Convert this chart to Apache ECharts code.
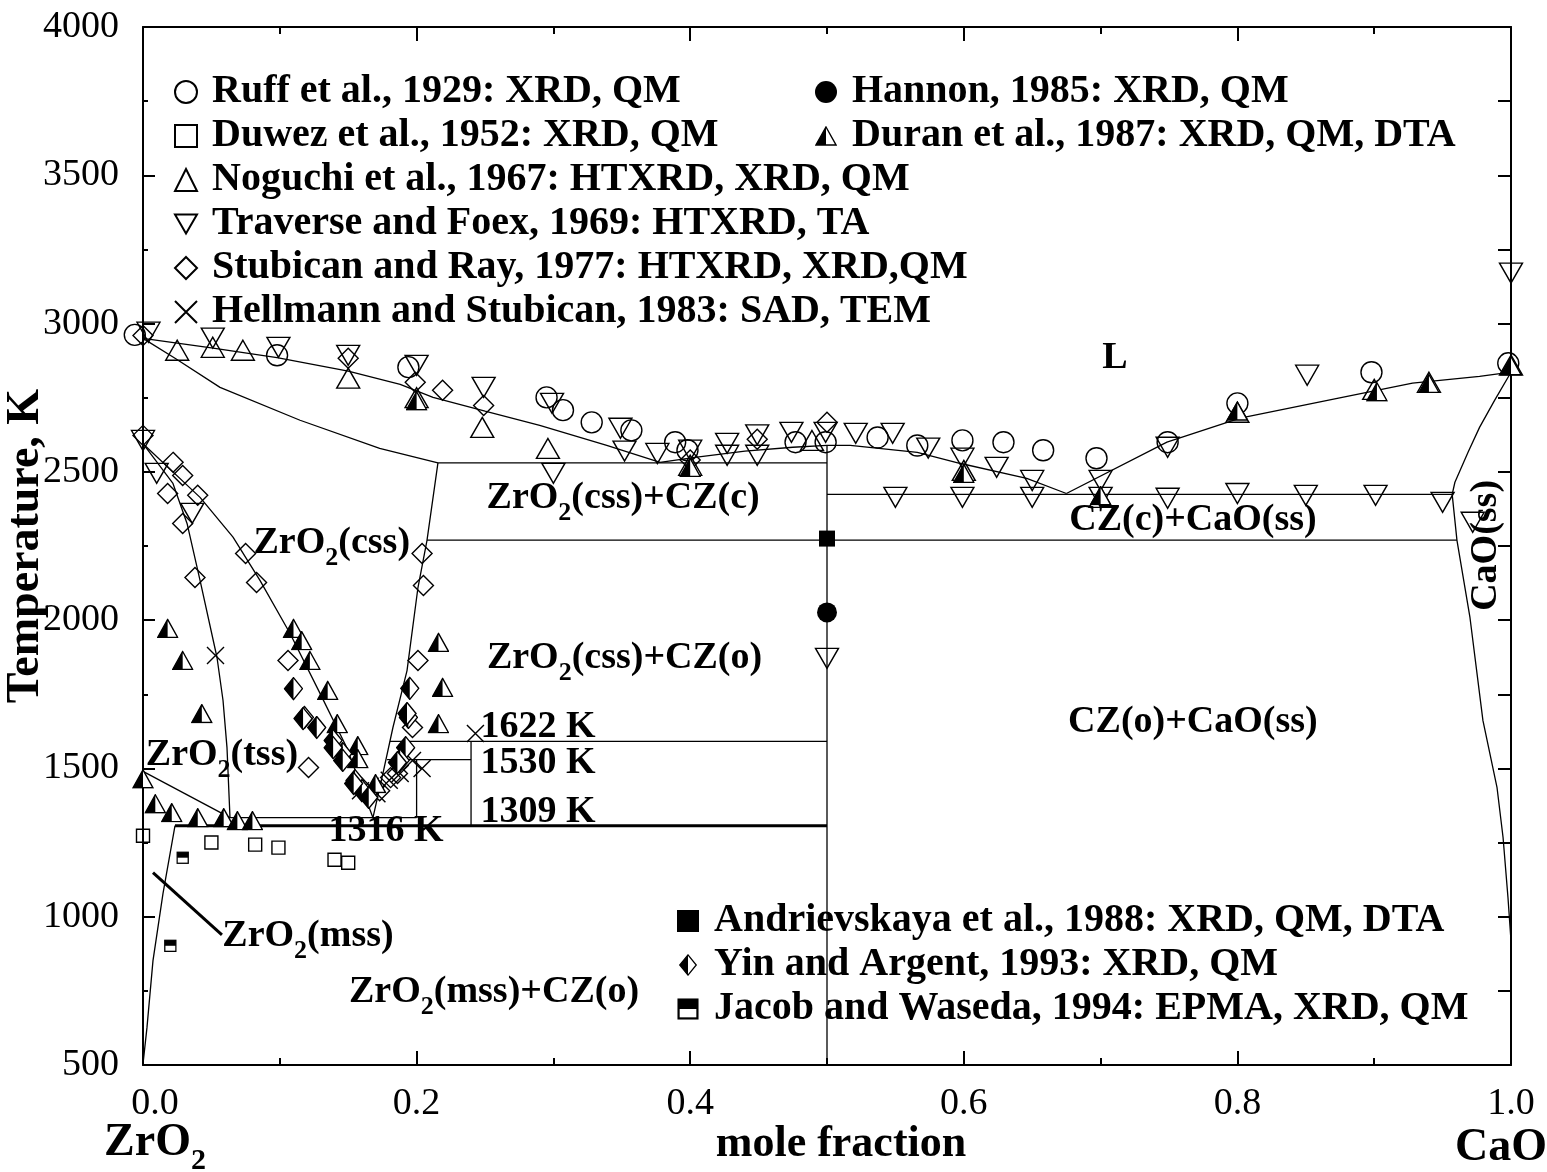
<!DOCTYPE html>
<html><head><meta charset="utf-8">
<script src="https://cdn.jsdelivr.net/npm/echarts@6/dist/echarts.min.js"></script>
<style>html,body{margin:0;padding:0;background:#fff}#c{width:1547px;height:1172px}</style>
</head><body><div id="c"></div>
<script>
const FONT = '"Liberation Serif","Times New Roman",Times,serif';

// ---------- experimental points: [mole fraction CaO, T (K)] ----------
const ruff1929 = [[-0.006,2962],[0.098,2893],[0.194,2853],[0.295,2751],[0.307,2708],[0.328,2667],[0.357,2640],[0.389,2600],[0.398,2573],[0.477,2600],[0.499,2600],[0.537,2616],[0.566,2589],[0.599,2606],[0.629,2600],[0.658,2573],[0.697,2546],[0.749,2600],[0.800,2731],[0.898,2836],[0.998,2866]];
const duwez1952 = [[0.000,1273],[0.050,1250],[0.082,1243],[0.099,1233],[0.140,1192],[0.150,1182]];
const noguchi1967 = [[0.025,2910],[0.051,2920],[0.073,2910],[0.150,2816],[0.200,2750],[0.248,2650],[0.296,2579],[0.400,2522],[0.489,2606],[0.600,2505],[0.700,2414],[0.800,2701],[0.900,2778],[0.940,2802],[1.000,2860]];
const traverse1969 = [[0.004,2971],[0.051,2951],[0.099,2920],[0.150,2893],[0.200,2859],[0.249,2785],[0.299,2731],[0.300,2495],[0.349,2647],[0.352,2570],[0.376,2562],[0.400,2573],[0.427,2596],[0.427,2556],[0.449,2625],[0.449,2556],[0.474,2633],[0.499,2633],[0.521,2630],[0.548,2630],[0.574,2580],[0.599,2546],[0.624,2515],[0.650,2471],[0.700,2471],[0.749,2583],[0.550,2414],[0.599,2414],[0.650,2414],[0.700,2414],[0.749,2411],[0.800,2427],[0.850,2421],[0.901,2421],[0.950,2397],[0.972,2330],[1.000,3170],[0.851,2826],[0.500,1871],[0.000,2606],[0.010,2495],[0.036,2360]];
const stubican1977 = [[0.000,2960],[0.150,2883],[0.199,2802],[0.219,2775],[0.249,2724],[0.400,2540],[0.449,2610],[0.500,2667],[0.000,2623],[0.022,2532],[0.029,2488],[0.018,2427],[0.040,2421],[0.029,2326],[0.075,2225],[0.038,2144],[0.083,2127],[0.106,1864],[0.121,1503],[0.204,2225],[0.205,2117],[0.201,1864],[0.197,1638],[0.186,1483],[0.181,1469],[0.173,1425]];
const hellmann1983 = [[0.053,1881],[0.243,1618],[0.204,1500],[0.171,1415],[0.159,1425],[0.188,1483],[0.197,1527],[0.166,1440],[0.180,1460]];
const hannon1985 = [[0.500,2026]];
const duran1987 = [[0.000,1465],[0.009,1381],[0.021,1351],[0.040,1334],[0.059,1334],[0.069,1324],[0.080,1324],[0.043,1685],[0.018,1972],[0.029,1864],[0.110,1972],[0.116,1931],[0.122,1864],[0.135,1763],[0.142,1651],[0.157,1577],[0.157,1533],[0.170,1449],[0.216,1925],[0.219,1773],[0.216,1651],[0.200,2740],[0.400,2515],[0.600,2495],[0.700,2420],[0.800,2705],[0.902,2770],[0.940,2798],[1.000,2858]];
const andrievskaya1988 = [[0.500,2275]];
const yin1993 = [[0.110,1769],[0.118,1672],[0.127,1638],[0.139,1594],[0.146,1550],[0.146,1527],[0.155,1459],[0.160,1425],[0.165,1402],[0.195,1770],[0.194,1672],[0.193,1685],[0.192,1570],[0.188,1527],[0.186,1520],[0.117,1668],[0.139,1570],[0.154,1449]];
const jacob1994 = [[0.029,1199],[0.020,902]];

// ---------- phase boundaries ----------
const liquidusZrO2 = [[0,2950],[0.05,2918],[0.098,2885],[0.15,2840],[0.188,2795],[0.212,2751],[0.25,2705],[0.290,2657],[0.339,2589],[0.378,2532]];
const liquidusCZ = [[0.378,2532],[0.4035,2549],[0.44,2570],[0.475,2583],[0.5,2589],[0.517,2589],[0.566,2566],[0.597,2529],[0.646,2478],[0.675,2427]];
const liquidusCaO = [[0.675,2427],[0.7485,2600],[0.802,2681],[0.873,2748],[0.928,2799],[0.977,2822],[1.0,2836]];
const solidusCaO = [[1.0,2836],[0.988,2741],[0.977,2650],[0.9686,2566],[0.959,2465],[0.957,2424]];
const solvusCaO = [[0.957,2424],[0.9605,2269],[0.970,2009],[0.9795,1661],[0.9898,1435],[0.9942,1267],[0.9978,1064],[1.0,919]];
const eutecticCaO = [[0.5,2424],[0.957,2424]];
const eutecticZrO2 = [[0.2156,2530],[0.5,2530]];
const transitionCZ = [[0.2076,2270],[0.9605,2270]];
const compoundCZ = [[0.5,2589],[0.5,500]];
const solidusZrO2 = [[0,2950],[0.0234,2883],[0.0563,2785],[0.1148,2674],[0.173,2579],[0.2156,2530]];
const cssRight = [[0.2156,2530],[0.2076,2269],[0.201,2110],[0.193,1830],[0.1827,1638],[0.1754,1483],[0.1681,1334]];
const cssLeft = [[0,2595],[0.0417,2414],[0.0658,2280],[0.0855,2134],[0.1075,1955],[0.1294,1753],[0.149,1570],[0.1681,1334]];
const tssRight = [[0,2595],[0.0219,2461],[0.0322,2326],[0.0417,2134],[0.0541,1874],[0.0585,1729],[0.0614,1570],[0.0636,1334]];
const tmLine = [[0,1490],[0.0636,1334]];
const mssLine = [[0,504],[0.0029,626],[0.0073,852],[0.0146,1078],[0.0234,1307]];
const line1316 = [[0.0636,1334],[0.2,1334]];
const line1309 = [[0.0234,1307],[0.5,1307]];
const line1622 = [[0.1805,1591],[0.5,1591]];
const line1530 = [[0.1784,1530],[0.2398,1530]];
const vert024 = [[0.2398,1591],[0.2398,1307]];
const vert020 = [[0.2,1530],[0.2,1334]];
const mssPointer = [[0.0073,1149],[0.0577,939]];

// ---------- region labels: [x, T, text, rotate] ----------
const phaseLabels = [
  [0.7105, 2883, 'L'],
  [0.351, 2395, '{n|ZrO}{s|2}{n|(css)+CZ(c)}'],
  [0.138, 2243, '{n|ZrO}{s|2}{n|(css)}'],
  [0.352, 1855, '{n|ZrO}{s|2}{n|(css)+CZ(o)}'],
  [0.2887, 1638, '1622 K'],
  [0.2887, 1516, '1530 K'],
  [0.2887, 1351, '1309 K'],
  [0.1776, 1290, '1316 K'],
  [0.0577, 1528, '{n|ZrO}{s|2}{n|(tss)}'],
  [0.1206, 920, '{n|ZrO}{s|2}{n|(mss)}'],
  [0.2566, 731, '{n|ZrO}{s|2}{n|(mss)+CZ(o)}'],
  [0.7675, 2336, 'CZ(c)+CaO(ss)'],
  [0.7675, 1655, 'CZ(o)+CaO(ss)'],
  [0.9817, 2252, 'CaO(ss)', 90]
];

const legendTop1 = ['Ruff et al., 1929: XRD, QM','Duwez et al., 1952: XRD, QM','Noguchi et al., 1967: HTXRD, XRD, QM','Traverse and Foex, 1969: HTXRD, TA','Stubican and Ray, 1977: HTXRD, XRD,QM','Hellmann and Stubican, 1983: SAD, TEM'];
const legendTop2 = ['Hannon, 1985: XRD, QM','Duran et al., 1987: XRD, QM, DTA'];
const legendBottom = ['Andrievskaya et al., 1988: XRD, QM, DTA','Yin and Argent, 1993: XRD, QM','Jacob and Waseda, 1994: EPMA, XRD, QM'];

// ---------- symbols ----------
const svgUri = s => 'image://data:image/svg+xml;charset=utf-8,' + encodeURIComponent(s);
const halfTri = svgUri('<svg xmlns="http://www.w3.org/2000/svg" width="44" height="40" viewBox="0 0 22 20"><polygon points="11,1 21,19 1,19" fill="#fff" stroke="#000" stroke-width="1.4"/><polygon points="11,1 11,19 1,19" fill="#000"/></svg>');
const halfDia = svgUri('<svg xmlns="http://www.w3.org/2000/svg" width="40" height="48" viewBox="0 0 20 24"><polygon points="10,1 19,12 10,23 1,12" fill="#fff" stroke="#000" stroke-width="1.4"/><polygon points="10,1 10,23 1,12" fill="#000"/></svg>');
const halfSq = svgUri('<svg xmlns="http://www.w3.org/2000/svg" width="28" height="28" viewBox="0 0 14 14"><rect x="1" y="1" width="12" height="12" fill="#fff" stroke="#000" stroke-width="1.4"/><rect x="1" y="1" width="12" height="6" fill="#000"/></svg>');
const OPEN = {color:'rgba(0,0,0,0)', borderColor:'#000', borderWidth:1.4, opacity:1};
const FILLED = {color:'#000', borderColor:'#000', borderWidth:0, opacity:1};

function pts(name, data, symbol, size, style) {
  return {name, type:'scatter', data, symbol, symbolSize:size, itemStyle:style||OPEN, clip:false, z:5, silent:true};
}
function bnd(data, w) {
  return {type:'line', data, symbol:'none', showSymbol:false, lineStyle:{color:'#000', width:w||1.3, opacity:1}, silent:true, z:2, clip:false};
}

const boundaries = [
  [liquidusZrO2],[liquidusCZ],[liquidusCaO],[solidusCaO],[solvusCaO],[eutecticCaO],[eutecticZrO2],
  [transitionCZ],[compoundCZ],[solidusZrO2],[cssRight],[cssLeft],[tssRight],[tmLine],[mssLine],
  [line1316],[line1309,3],[line1622],[line1530],[vert024],[vert020],[mssPointer,3]
];

const rich = {
  n:{fontFamily:FONT, fontWeight:'bold', fontSize:38, color:'#000', verticalAlign:'bottom', padding:[0,0,9,0]},
  s:{fontFamily:FONT, fontWeight:'bold', fontSize:26, color:'#000', verticalAlign:'bottom'}
};

const series = [
  ...boundaries.map(b => bnd(b[0], b[1])),
  pts(legendTop1[0], ruff1929, 'circle', 21),
  pts(legendTop1[1], duwez1952, 'rect', 13),
  pts(legendTop1[2], noguchi1967, 'triangle', [23,20]),
  pts(legendTop1[3], traverse1969, 'path://M0,0L20,0L10,17.3Z', [23,20]),
  pts(legendTop1[4], stubican1977, 'diamond', [20,20]),
  pts(legendTop1[5], hellmann1983, 'path://M0,0L10,10M10,0L0,10', 17),
  pts(legendTop2[0], hannon1985, 'circle', 20, FILLED),
  pts(legendTop2[1], duran1987, halfTri, [22,20]),
  pts(legendBottom[0], andrievskaya1988, 'rect', 16, FILLED),
  pts(legendBottom[1], yin1993, halfDia, [20,24]),
  pts(legendBottom[2], jacob1994, halfSq, [13,13]),
  {type:'scatter', silent:true, z:10, symbolSize:0, clip:false, itemStyle:{opacity:1},
   data: phaseLabels.map(l => ({value:[l[0], l[1]], label:{formatter:l[2], rotate:l[3]||0}})),
   label:{show:true, position:'inside', color:'#000', fontFamily:FONT, fontWeight:'bold', fontSize:38, rich}}
];

const legendText = {fontFamily:FONT, fontWeight:'bold', fontSize:40, color:'#000', lineHeight:40, padding:[0,0,0,10]};
const legendBase = {orient:'vertical', itemWidth:22, itemHeight:22, itemGap:4, selectedMode:false, textStyle:legendText, padding:0};

const axisLineStyle = {color:'#000', width:2};
const tickStyle = {color:'#000', width:2};
const option = {
  animation:false,
  backgroundColor:'#fff',
  grid:{left:143, right:36, top:27, bottom:107, containLabel:false, outerBoundsMode:'none'},
  legend:[
    Object.assign({data:legendTop1, left:174, top:72}, legendBase),
    Object.assign({data:legendTop2, left:815, top:72}, legendBase),
    Object.assign({data:legendBottom, left:677, top:901}, legendBase)
  ],
  xAxis:[
    {type:'value', position:'bottom', min:0, max:1, interval:0.2,
     name:'mole fraction', nameLocation:'middle', nameGap:58, nameMoveOverlap:false,
     nameTextStyle:{fontFamily:FONT, fontWeight:'bold', fontSize:44, color:'#000', padding:[0,0,0,28]},
     axisLine:{show:true, onZero:false, lineStyle:axisLineStyle},
     axisTick:{show:true, inside:true, length:14, lineStyle:tickStyle},
     minorTick:{show:true, splitNumber:2, length:7, lineStyle:tickStyle},
     splitLine:{show:false}, minorSplitLine:{show:false},
     axisLabel:{show:true, margin:20, fontFamily:FONT, fontSize:38, color:'#000',
       formatter: v => v === 0 ? '{z|0.0}' : v.toFixed(1),
       rich:{z:{fontFamily:FONT, fontSize:38, color:'#000', padding:[0,0,0,24]}}}},
    {type:'value', position:'top', min:0, max:1, interval:0.2,
     axisLine:{show:true, onZero:false, lineStyle:axisLineStyle},
     axisTick:{show:true, inside:true, length:14, lineStyle:tickStyle},
     minorTick:{show:true, splitNumber:2, length:7, lineStyle:tickStyle},
     splitLine:{show:false}, axisLabel:{show:false}}
  ],
  yAxis:[
    {type:'value', position:'left', min:500, max:4000, interval:500,
     name:'Temperature, K', nameLocation:'middle', nameGap:94, nameRotate:90, nameMoveOverlap:false,
     nameTextStyle:{fontFamily:FONT, fontWeight:'bold', fontSize:46, color:'#000'},
     axisLine:{show:true, onZero:false, lineStyle:axisLineStyle},
     axisTick:{show:true, inside:true, length:12, lineStyle:tickStyle},
     minorTick:{show:true, splitNumber:2, length:5, lineStyle:tickStyle},
     splitLine:{show:false},
     axisLabel:{show:true, margin:24, fontFamily:FONT, fontSize:38, color:'#000', formatter: v => String(v)}},
    {type:'value', position:'right', min:500, max:4000, interval:250,
     axisLine:{show:true, onZero:false, lineStyle:axisLineStyle},
     axisTick:{show:true, inside:true, length:13, lineStyle:tickStyle},
     splitLine:{show:false}, axisLabel:{show:false}}
  ],
  graphic:[
    {type:'text', x:155, y:1148, silent:true,
     style:{text:'{a|ZrO}{b|2}', align:'center', verticalAlign:'middle',
       rich:{a:{fontFamily:FONT, fontWeight:'bold', fontSize:46, color:'#000', verticalAlign:'bottom', padding:[0,0,10,0]},
             b:{fontFamily:FONT, fontWeight:'bold', fontSize:30, color:'#000', verticalAlign:'bottom'}}}},
    {type:'text', x:1501, y:1148, silent:true,
     style:{text:'CaO', align:'center', verticalAlign:'middle', fontFamily:FONT, fontWeight:'bold', fontSize:46, fill:'#000'}}
  ],
  series
};

const chart = echarts.init(document.getElementById('c'), null, {renderer:'canvas'});
chart.setOption(option);
</script></body></html>
